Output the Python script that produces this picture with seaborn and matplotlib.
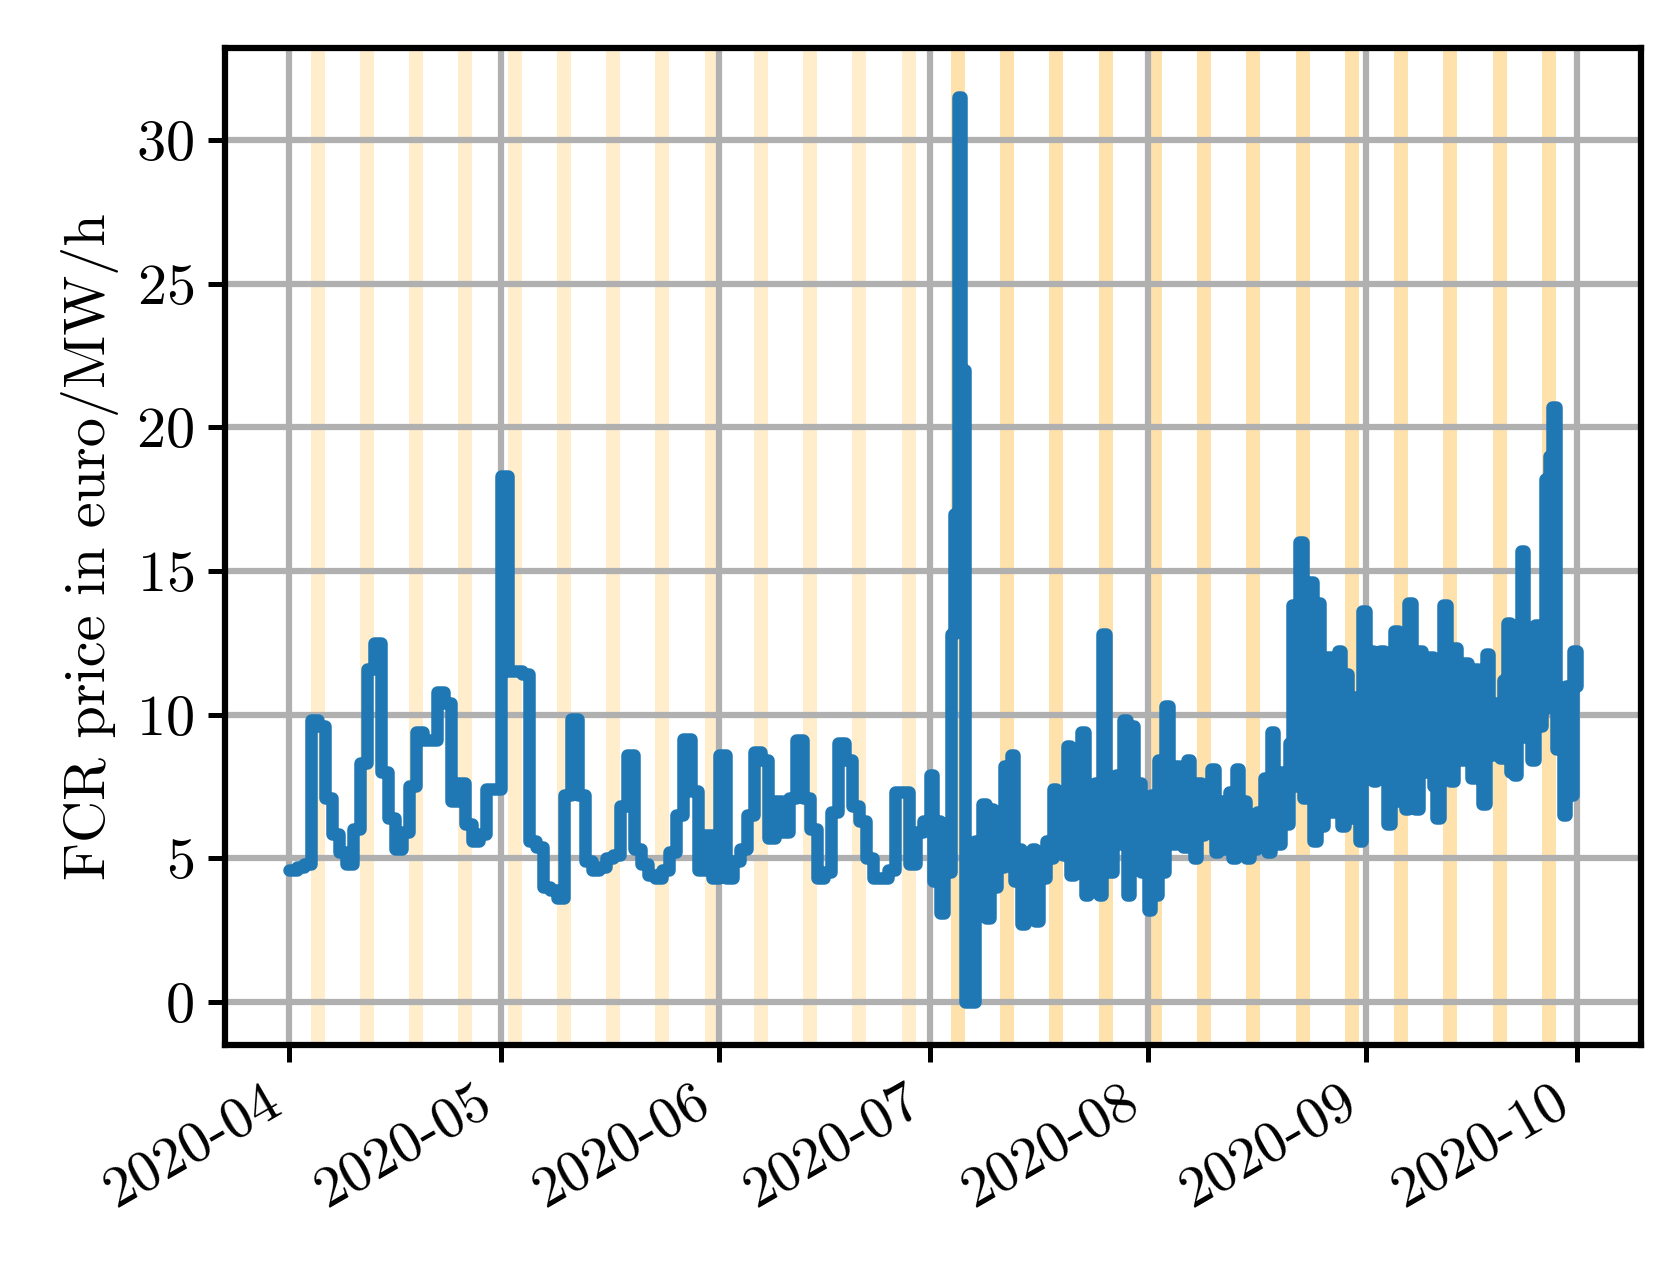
import numpy as np
import pandas as pd
import matplotlib
matplotlib.use("Agg")
import matplotlib.pyplot as plt
import matplotlib.dates as mdates
import seaborn as sns

# Daily prices April-June 2020
apr = [4.6, 4.7, 4.8, 9.8, 9.6, 7.1, 5.85, 5.2, 4.8, 6.0, 8.3, 11.6, 12.5, 8.0, 6.4,
       5.3, 5.9, 7.5, 9.4, 9.1, 9.1, 10.8, 10.4, 7.0, 7.6, 6.2, 5.6, 5.85, 7.4, 7.4]
may = [18.3, 11.5, 11.5, 11.4, 5.6, 5.4, 4.0, 3.9, 3.6, 7.2, 9.85, 7.2, 4.9, 4.6, 4.7, 5.0,
       5.1, 6.8, 8.6, 5.3, 4.8, 4.4, 4.3, 4.6, 5.2, 6.5, 9.15, 7.35, 4.6, 5.8, 4.3]
jun = [8.6, 4.3, 4.9, 5.3, 6.5, 8.7, 8.4, 5.7, 7.0, 5.9, 7.1, 9.1, 7.1, 6.0, 4.3,
       4.5, 6.6, 9.0, 8.4, 6.8, 6.3, 5.0, 4.3, 4.3, 4.6, 7.3, 7.3, 4.8, 5.9, 6.3]
# Half-day prices July-September 2020
jul = [7.9, 4.2, 6.3, 3.1, 5.5, 4.5, 12.8, 17.0, 31.5, 22.0, 0.0, 0.0, 0.0, 5.6,
       3.2, 6.9, 2.9, 6.7, 4.0, 6.2, 4.7, 8.2, 5.0, 8.6, 4.2, 5.3, 2.7, 5.0, 3.0, 5.3,
       2.8, 4.8, 4.3, 5.6, 5.0, 7.4, 6.2, 7.0, 5.1, 8.9, 4.4, 7.3, 6.0, 9.4, 3.7, 7.0,
       6.2, 7.6, 3.7, 12.8, 7.8, 4.5, 6.5, 7.9, 5.5, 9.8, 3.7, 9.6, 5.8, 7.6, 4.5, 6.0]
aug = [3.2, 7.2, 3.7, 8.4, 4.5, 10.3, 6.2, 5.5, 8.2, 6.0, 5.4, 8.4, 6.8, 5.0, 7.6, 5.8,
       6.0, 6.8, 8.1, 5.2, 7.0, 5.3, 6.2, 7.3, 5.0, 8.1, 5.6, 7.0, 5.0, 6.4, 5.3, 6.6,
       6.0, 7.8, 5.2, 9.4, 6.3, 5.5, 8.0, 6.2, 9.0, 13.8, 7.5, 16.0, 7.1, 10.2, 14.6, 5.6,
       13.9, 6.1, 8.0, 12.0, 6.6, 11.5, 12.2, 6.1, 11.4, 8.9, 6.4, 10.6, 5.6, 13.6]
sep = [9.0, 12.2, 7.7, 10.6, 12.2, 8.2, 6.2, 10.0, 12.9, 7.0, 11.5, 6.7, 13.9, 8.5,
       6.7, 12.2, 11.2, 8.0, 12.0, 7.5, 6.4, 10.3, 13.8, 8.2, 7.7, 12.3, 10.1, 8.4,
       11.8, 9.0, 7.8, 11.6, 9.5, 6.9, 12.1, 8.6, 9.3, 10.4, 8.5, 11.2, 13.2, 8.0,
       7.9, 12.3, 15.7, 9.2, 12.8, 8.4, 13.1, 9.6, 10.2, 18.2, 19.0, 20.7, 8.8, 10.2,
       6.5, 11.0, 7.2, 12.2]
final_value = [11.0]

t1 = pd.date_range("2020-04-01", periods=len(apr) + len(may) + len(jun), freq="D")
t2 = pd.date_range("2020-07-01", periods=len(jul) + len(aug) + len(sep) + 1, freq="12h")
df = pd.DataFrame({
    "time": list(t1) + list(t2),
    "price": apr + may + jun + jul + aug + sep + final_value,
})

sns.set_style("white")
plt.rcParams["font.family"] = "serif"
plt.rcParams["font.serif"] = ["cmr10"]
plt.rcParams["mathtext.fontset"] = "cm"
plt.rcParams["axes.unicode_minus"] = False
plt.rcParams["axes.formatter.use_mathtext"] = True
plt.rcParams["text.color"] = "black"
plt.rcParams["xtick.color"] = "black"
plt.rcParams["ytick.color"] = "black"
plt.rcParams["axes.labelcolor"] = "black"

fig, ax = plt.subplots(figsize=(5.6, 4.2467), dpi=300)
fig.subplots_adjust(left=0.134, right=0.977, top=0.962, bottom=0.18)

days = pd.date_range("2020-04-01", "2020-09-30", freq="D")
for d in days:
    if d.weekday() >= 5:
        a = 0.2 if d < pd.Timestamp("2020-07-01") else 0.33
        ax.axvspan(d, d + pd.Timedelta(days=1), color="#FFA500", alpha=a, lw=0, zorder=0)

sns.lineplot(data=df, x="time", y="price", ax=ax, color="#1f77b4", lw=3.0,
             drawstyle="steps-post", zorder=3)

ax.set_ylim(-1.5, 33.2)
ax.grid(True, color="#b0b0b0", lw=1.5, zorder=1)
ax.set_axisbelow(True)
ax.xaxis.set_major_locator(mdates.MonthLocator())
ax.xaxis.set_major_formatter(mdates.DateFormatter("%Y-%m"))
ax.set_xlabel("")
ax.set_ylabel("FCR price in euro/MW/h", fontsize=14)
ax.tick_params(axis="both", labelsize=14, length=4, width=1.2, direction="out",
               bottom=True, left=True)
for lab in ax.get_xticklabels():
    lab.set_rotation(30)
    lab.set_ha("right")
for s in ax.spines.values():
    s.set_color("black")
    s.set_linewidth(1.5)

fig.savefig("out.png", dpi=300)
